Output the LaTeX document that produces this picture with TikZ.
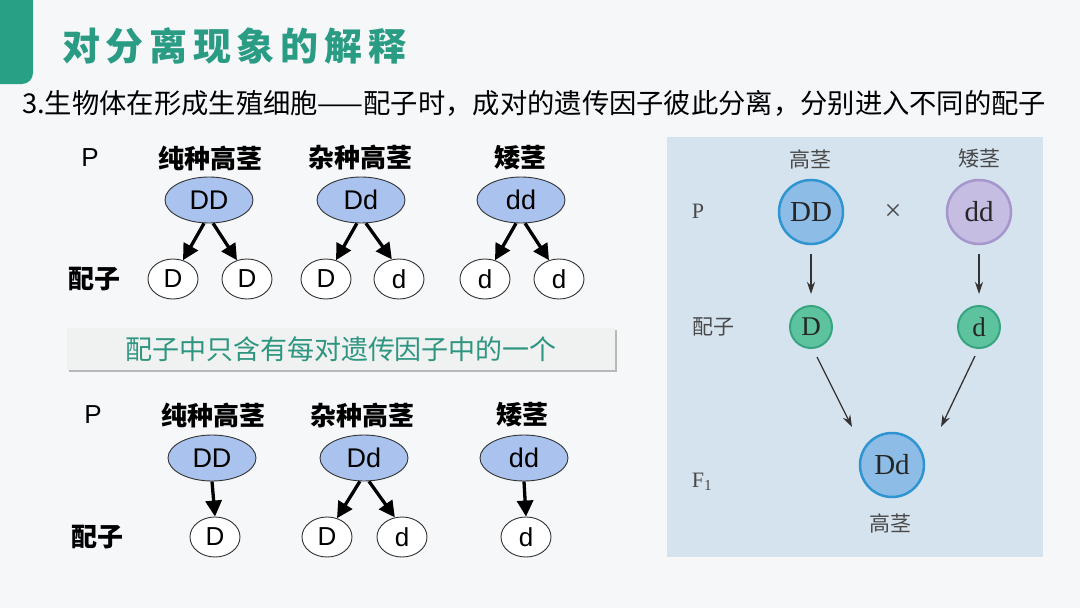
\documentclass[tikz,border=0pt]{standalone}
\usepackage{fontspec}
\setmainfont{Liberation Sans}
\newfontfamily\cjk{Noto Sans CJK SC}
\newfontfamily\titlefont[LetterSpace=15]{Noto Sans CJK SC}
\newfontfamily\serifnum{Liberation Serif}
\usetikzlibrary{shapes.geometric,arrows.meta}

\definecolor{bg}{HTML}{F5F7F9}
\definecolor{titlecol}{HTML}{2A9C84}
\definecolor{tabcol}{HTML}{27A085}
\definecolor{bannerfill}{HTML}{F0F1F1}
\definecolor{bantext}{HTML}{2E9680}
\definecolor{ellfill}{HTML}{AAC2EE}
\definecolor{panelcol}{HTML}{D5E3EF}
\definecolor{bluefill}{HTML}{8DBDE7}
\definecolor{blueline}{HTML}{2F94D0}
\definecolor{purfill}{HTML}{C6BDE2}
\definecolor{purline}{HTML}{A596CC}
\definecolor{grnfill}{HTML}{5DC39F}
\definecolor{grnline}{HTML}{36A57F}
\definecolor{ptext}{HTML}{4A4A4A}

\tikzset{
  lbl/.style={font=\cjk\bfseries\fontsize{26}{28}\selectfont, inner sep=0pt},
  plbl/.style={font=\fontsize{26}{28}\selectfont, inner sep=0pt},
  parent/.style={ellipse, draw=black!80, line width=0.9pt, fill=ellfill,
    minimum width=88pt, minimum height=46pt, inner sep=0pt,
    font=\fontsize{27}{29}\selectfont},
  gamete/.style={ellipse, draw=black!80, line width=0.9pt, fill=white,
    minimum width=50pt, minimum height=40pt, inner sep=0pt,
    font=\fontsize{26}{28}\selectfont},
  garr/.style={line width=3.3pt, -{Triangle[length=16pt,width=16pt]}},
  rlbl/.style={font=\cjk\fontsize{21}{23}\selectfont, text=ptext, inner sep=0pt},
  rser/.style={font=\serifnum\fontsize{22}{24}\selectfont, text=ptext, inner sep=0pt},
  bigc/.style={circle, minimum size=64pt, line width=2.5pt, inner sep=0pt,
    font=\serifnum\fontsize{29}{31}\selectfont, text=black!85},
  smallc/.style={circle, minimum size=42pt, line width=2pt, inner sep=0pt,
    fill=grnfill, draw=grnline, font=\serifnum\fontsize{27}{29}\selectfont, text=black!85},
  rarr/.style={line width=1.3pt, draw=black!80, -{Stealth[length=12pt,width=8pt]}}
}

\begin{document}
\begin{tikzpicture}[x=1pt,y=-1pt]
\useasboundingbox (0,0) rectangle (1080,608);
\fill[bg] (0,0) rectangle (1080,608);

% header
\fill[tabcol, rounded corners=11pt] (-20,-20) rectangle (33,84);
\node[anchor=west, inner sep=0pt, text=titlecol,
  font=\titlefont\bfseries\fontsize{38}{40}\selectfont] (title) at (62,46) {对分离现象的解释};
\node[anchor=west, inner sep=0pt, font=\cjk\fontsize{27.3}{29}\selectfont] (sub) at (22,103)
  {3.生物体在形成生殖细胞——配子时，成对的遗传因子彼此分离，分别进入不同的配子};

% ---------- upper left diagram ----------
\node[plbl] (p1) at (90,158) {P};
\node[lbl] (a1) at (210,158) {纯种高茎};
\node[lbl] (b1) at (360,158) {杂种高茎};
\node[lbl] (c1) at (520,158) {矮茎};
\node[parent] (DD1) at (209,200) {DD};
\node[parent] (Dd1) at (361,200) {Dd};
\node[parent] (dd1) at (521,200) {dd};
\node[lbl] (pz1) at (94,279) {配子};
\node[gamete] (g11) at (173,279) {D};
\node[gamete] (g12) at (247,279) {D};
\node[gamete] (g13) at (326,279) {D};
\node[gamete] (g14) at (399,279) {d};
\node[gamete] (g15) at (485,279) {d};
\node[gamete] (g16) at (559,279) {d};
\draw[garr] (DD1.-102) -- (g11.62);
\draw[garr] (DD1.-80) -- (g12.118);
\draw[garr] (Dd1.-100) -- (g13.62);
\draw[garr] (Dd1.-78) -- (g14.110);
\draw[garr] (dd1.-102) -- (g15.62);
\draw[garr] (dd1.-80) -- (g16.118);

% banner
\fill[black!28] (69,330) rectangle (617,372);
\fill[bannerfill] (67,328) rectangle (615,370);
\node[inner sep=0pt, text=bantext, font=\cjk\fontsize{27}{29}\selectfont] (ban) at (341,349)
  {配子中只含有每对遗传因子中的一个};

% ---------- lower left diagram ----------
\node[plbl] (p2) at (93,415) {P};
\node[lbl] (a2) at (213,415) {纯种高茎};
\node[lbl] (b2) at (362,415) {杂种高茎};
\node[lbl] (c2) at (522,415) {矮茎};
\node[parent] (DD2) at (212,458) {DD};
\node[parent] (Dd2) at (364,458) {Dd};
\node[parent] (dd2) at (524,458) {dd};
\node[lbl] (pz2) at (97,537) {配子};
\node[gamete] (g21) at (215,537) {D};
\node[gamete] (g22) at (327,537) {D};
\node[gamete] (g23) at (402,537) {d};
\node[gamete] (g24) at (526,537) {d};
\draw[garr] (DD2.south) -- (g21.north);
\draw[garr] (Dd2.-100) -- (g22.62);
\draw[garr] (Dd2.-78) -- (g23.110);
\draw[garr] (dd2.south) -- (g24.north);

% ---------- right panel ----------
\fill[panelcol] (667,137) rectangle (1043,557);
\node[rlbl] (rt1) at (810,159) {高茎};
\node[rlbl] (rt2) at (979,159) {矮茎};
\node[rser] (rP) at (698,211) {P};
\node[bigc, fill=bluefill, draw=blueline] (RDD) at (811,212) {DD};
\node[inner sep=0pt, text=ptext, font=\serifnum\fontsize{30}{30}\selectfont] (cross) at (893,212) {×};
\node[bigc, fill=purfill, draw=purline] (Rdd) at (979,212) {dd};
\node[rlbl] (rpz) at (713,327) {配子};
\node[smallc] (RD) at (811,327) {D};
\node[smallc] (Rd) at (979,327) {d};
\node[bigc, fill=bluefill, draw=blueline] (RDd) at (892,465) {Dd};
\node[rser] (rF) at (702,482) {F\textsubscript{1}};
\node[rlbl] (rt3) at (890,523) {高茎};
\draw[rarr, shorten <=9pt, shorten >=11pt] (RDD) -- (RD);
\draw[rarr, shorten <=9pt, shorten >=11pt] (Rdd) -- (Rd);
\draw[rarr] ([shift={(6,30)}]RD.center) -- ([shift={(-40,-38)}]RDd.center);
\draw[rarr] ([shift={(-4,29)}]Rd.center) -- ([shift={(49,-38)}]RDd.center);
\end{tikzpicture}
\end{document}
